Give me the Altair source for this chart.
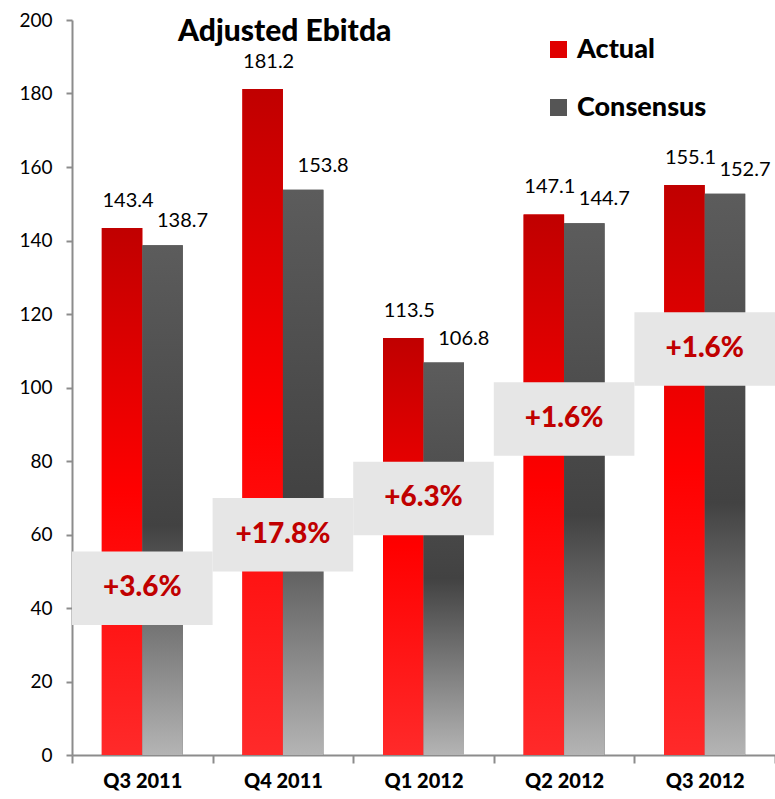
import altair as alt
import pandas as pd

# Quarterly adjusted EBITDA: reported vs. analyst consensus
quarters = ["Q3 2011", "Q4 2011", "Q1 2012", "Q2 2012", "Q3 2012"]
series = ["Actual", "Consensus"]
actual = [143.4, 181.2, 113.5, 147.1, 155.1]
consensus = [138.7, 153.8, 106.8, 144.7, 152.7]
beat_labels = ["+3.6%", "+17.8%", "+6.3%", "+1.6%", "+1.6%"]

# vertical placement of the beat badges, in axis units (centre of each badge)
badge_centre = [45.4, 59.9, 69.8, 91.4, 110.5]
BADGE_HALF = 10.0

rows = []
for q, a, c in zip(quarters, actual, consensus):
    rows.append({"quarter": q, "series": "Actual", "value": a})
    rows.append({"quarter": q, "series": "Consensus", "value": c})
bars_df = pd.DataFrame(rows)

badges_df = pd.DataFrame({
    "quarter": quarters,
    "label": beat_labels,
    "lo": [v - BADGE_HALF for v in badge_centre],
    "hi": [v + BADGE_HALF for v in badge_centre],
    "mid": badge_centre,
})

FONT = "Lato"

red_grad = alt.Gradient(
    gradient="linear", x1=0, y1=0, x2=0, y2=1,
    stops=[
        alt.GradientStop(color="#c00000", offset=0),
        alt.GradientStop(color="#ff0000", offset=0.5),
        alt.GradientStop(color="#ff2a2a", offset=1),
    ],
)
grey_grad = alt.Gradient(
    gradient="linear", x1=0, y1=0, x2=0, y2=1,
    stops=[
        alt.GradientStop(color="#5c5c5c", offset=0),
        alt.GradientStop(color="#424242", offset=0.55),
        alt.GradientStop(color="#b4b4b4", offset=1),
    ],
)

x_enc = alt.X(
    "quarter:N", sort=quarters, title=None,
    scale=alt.Scale(paddingInner=0, paddingOuter=0),
    axis=alt.Axis(
        labelAngle=0, tickBand="extent", tickSize=8, tickWidth=2,
        tickColor="#8c8c8c", domainColor="#8c8c8c", domainWidth=2,
        labelFont=FONT, labelFontWeight=900, labelFontSize=20,
        labelColor="black", labelPadding=8,
    ),
)
y_enc = alt.Y(
    "value:Q", title=None,
    scale=alt.Scale(domain=[0, 200], nice=False),
    axis=alt.Axis(
        values=list(range(0, 201, 20)), grid=False, tickSize=6, tickWidth=2,
        tickColor="#8c8c8c", domainColor="#8c8c8c", domainWidth=2,
        labelFont=FONT, labelFontSize=19, labelColor="black", labelPadding=14,
    ),
)
xoff_enc = alt.XOffset(
    "series:N", sort=series,
    scale=alt.Scale(domain=series, paddingInner=0, paddingOuter=0.736),
)

base = alt.Chart(bars_df).encode(x=x_enc, xOffset=xoff_enc, y=y_enc)

# solid bars underneath carry the legend
legend_bars = base.mark_bar().encode(
    color=alt.Color(
        "series:N", sort=series,
        scale=alt.Scale(domain=series, range=["#e00000", "#555555"]),
        legend=alt.Legend(
            title=None, orient="none", legendX=473, legendY=16,
            symbolType="square", symbolSize=289, symbolStrokeWidth=0,
            labelFont=FONT, labelFontWeight=900, labelFontSize=27,
            labelColor="black", labelOffset=5, rowPadding=30,
        ),
    )
)

actual_bars = base.transform_filter(alt.datum.series == "Actual").mark_bar(color=red_grad)
consensus_bars = base.transform_filter(alt.datum.series == "Consensus").mark_bar(color=grey_grad)

actual_text = base.transform_filter(alt.datum.series == "Actual").mark_text(
    font=FONT, fontSize=20, color="black", baseline="middle", dy=-27, dx=6
).encode(text=alt.Text("value:Q", format=".1f"))
consensus_text = base.transform_filter(alt.datum.series == "Consensus").mark_text(
    font=FONT, fontSize=20, color="black", baseline="middle", dy=-24, dx=20
).encode(text=alt.Text("value:Q", format=".1f"))

badge_x = alt.X("quarter:N", sort=quarters)
badges = alt.Chart(badges_df).mark_rect(color="#e6e6e6").encode(
    x=badge_x, y="lo:Q", y2="hi:Q"
)
badge_text = alt.Chart(badges_df).mark_text(
    font=FONT, fontWeight=900, fontSize=28, color="#c00000", baseline="middle"
).encode(x=badge_x, y="mid:Q", text="label:N")

chart = alt.layer(
    legend_bars, actual_bars, consensus_bars, actual_text, consensus_text,
    badges, badge_text,
).properties(
    width=703,
    height=735,
    title=alt.TitleParams(
        "Adjusted Ebitda", anchor="start", frame="group", dx=106, dy=36,
        offset=0, font=FONT, fontWeight=900, fontSize=30, color="black",
    ),
    autosize=alt.AutoSizeParams(type="none"),
    padding={"left": 72, "top": 20, "right": 0, "bottom": 44},
).configure_view(stroke=None)

chart.save("out.html", embed_options={"renderer": "svg", "actions": False})
